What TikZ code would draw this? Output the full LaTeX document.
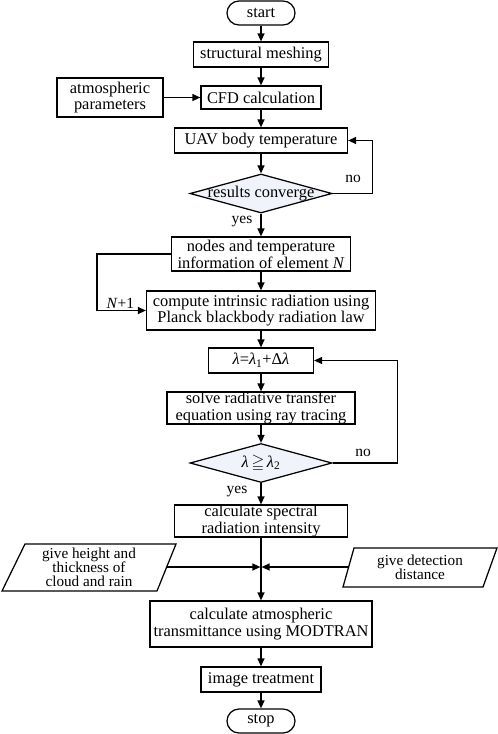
\documentclass[tikz,border=0pt]{standalone}
\usepackage{fontspec}
\setmainfont{Liberation Serif}
\usepackage{amssymb}
\usetikzlibrary{arrows.meta,shapes.geometric}
\definecolor{dfill}{HTML}{F1F3FB}
\begin{document}
\begin{tikzpicture}[x=1pt,y=-1pt,
  line width=1.25pt,
  every node/.style={font=\fontsize{16.4}{16.8}\selectfont, inner sep=0pt},
  box/.style={draw, rectangle, align=center},
  term/.style={draw, rectangle, rounded corners=12pt, minimum width=68pt, minimum height=24pt},
  dia/.style={draw, diamond, fill=dfill, minimum width=142pt, minimum height=39pt, inner sep=0pt},
  lbl/.style={font=\fontsize{15.5}{15.5}\selectfont},
  para/.style={font=\fontsize{15.2}{14.2}\selectfont, align=center},
  arr/.style={-{Triangle[length=8pt,width=7pt]}}
]
\useasboundingbox (0,0) rectangle (498,734);

\node[term] (start) at (261,13) {start};
\node[box, minimum width=135pt, minimum height=25pt] (mesh) at (261,54.5) {structural meshing};
\node[box, minimum width=106pt, minimum height=39pt] (atm) at (110,97.5) {atmospheric\\parameters};
\node[box, minimum width=120pt, minimum height=23pt] (cfd) at (261,97.5) {CFD calculation};
\node[box, minimum width=173pt, minimum height=25pt] (uav) at (261,140.5) {UAV body temperature};
\node[dia, label={[font=\fontsize{16.4}{16.8}\selectfont]center:results converge}] (conv) at (261,193.5) {};
\node[lbl] (yes1) at (242,222) {yes};
\node[lbl] (no1) at (353,179) {no};
\node[box, minimum width=179pt, minimum height=34pt] (elem) at (261,254) {nodes and temperature\\information of element \textit{N}};
\node[box, minimum width=229pt, minimum height=39pt] (comp) at (261,310.5) {compute intrinsic radiation using\\Planck blackbody radiation law};
\node[lbl, anchor=south west] (nplus) at (106,309) {\textit{N}+1};
\node[box, minimum width=105pt, minimum height=25pt] (lam) at (261,360.5) {\textit{λ}=\textit{λ}\textsubscript{1}+Δ\textit{λ}};
\node[box, minimum width=188pt, minimum height=32pt] (solve) at (261,408) {solve radiative transfer\\equation using ray tracing};
\node[dia, label={center:\textit{λ}\,$\geqq$\,\textit{λ}\textsubscript{2}}] (cmp) at (261,463) {};
\node[lbl] (no2) at (363,453) {no};
\node[lbl] (yes2) at (237,492) {yes};
\node[box, minimum width=173pt, minimum height=32pt] (spec) at (261,521) {calculate spectral\\radiation intensity};

\draw (25,544) -- (176,544) -- (157,591) -- (2,591) -- cycle;
\node[para] (cloud) at (89,567.5) {give height and\\thickness of\\cloud and rain};
\draw (354,548) -- (497,548) -- (483,587) -- (343,587) -- cycle;
\node[para] (dist) at (420,567.5) {give detection\\distance};
\coordinate (cloudR) at (167,567);
\coordinate (distL) at (349,567);
\coordinate (jL) at (260.4,567);
\coordinate (jR) at (261.6,567);

\node[box, minimum width=222pt, minimum height=46pt] (trans) at (261,624) {calculate atmospheric\\transmittance using MODTRAN};
\node[box, minimum width=120pt, minimum height=25pt] (img) at (261,679.5) {image treatment};
\node[term] (stop) at (261,721) {stop};

\draw[arr] (start) -- (mesh);
\draw[arr] (mesh) -- (cfd);
\draw[arr] (atm) -- (cfd);
\draw[arr] (cfd) -- (uav);
\draw[arr] (uav) -- (conv);
\draw[arr] (conv.east) -- ++(40,0) |- (uav.east);
\draw[arr] (conv) -- (elem);
\draw[arr] (elem) -- (comp);
\draw[arr] (elem.west) -- ++(-74,0) |- (comp.west);
\draw[arr] (comp) -- (lam);
\draw[arr] (lam) -- (solve);
\draw[arr] (solve) -- (cmp);
\draw[arr] (cmp.east) -- ++(65,0) |- (lam.east);
\draw[arr] (cmp) -- (spec);
\draw[arr] (spec) -- (trans);
\draw[arr] (cloudR) -- (jL);
\draw[arr] (distL) -- (jR);
\draw[arr] (trans) -- (img);
\draw[arr] (img) -- (stop);
\end{tikzpicture}
\end{document}
